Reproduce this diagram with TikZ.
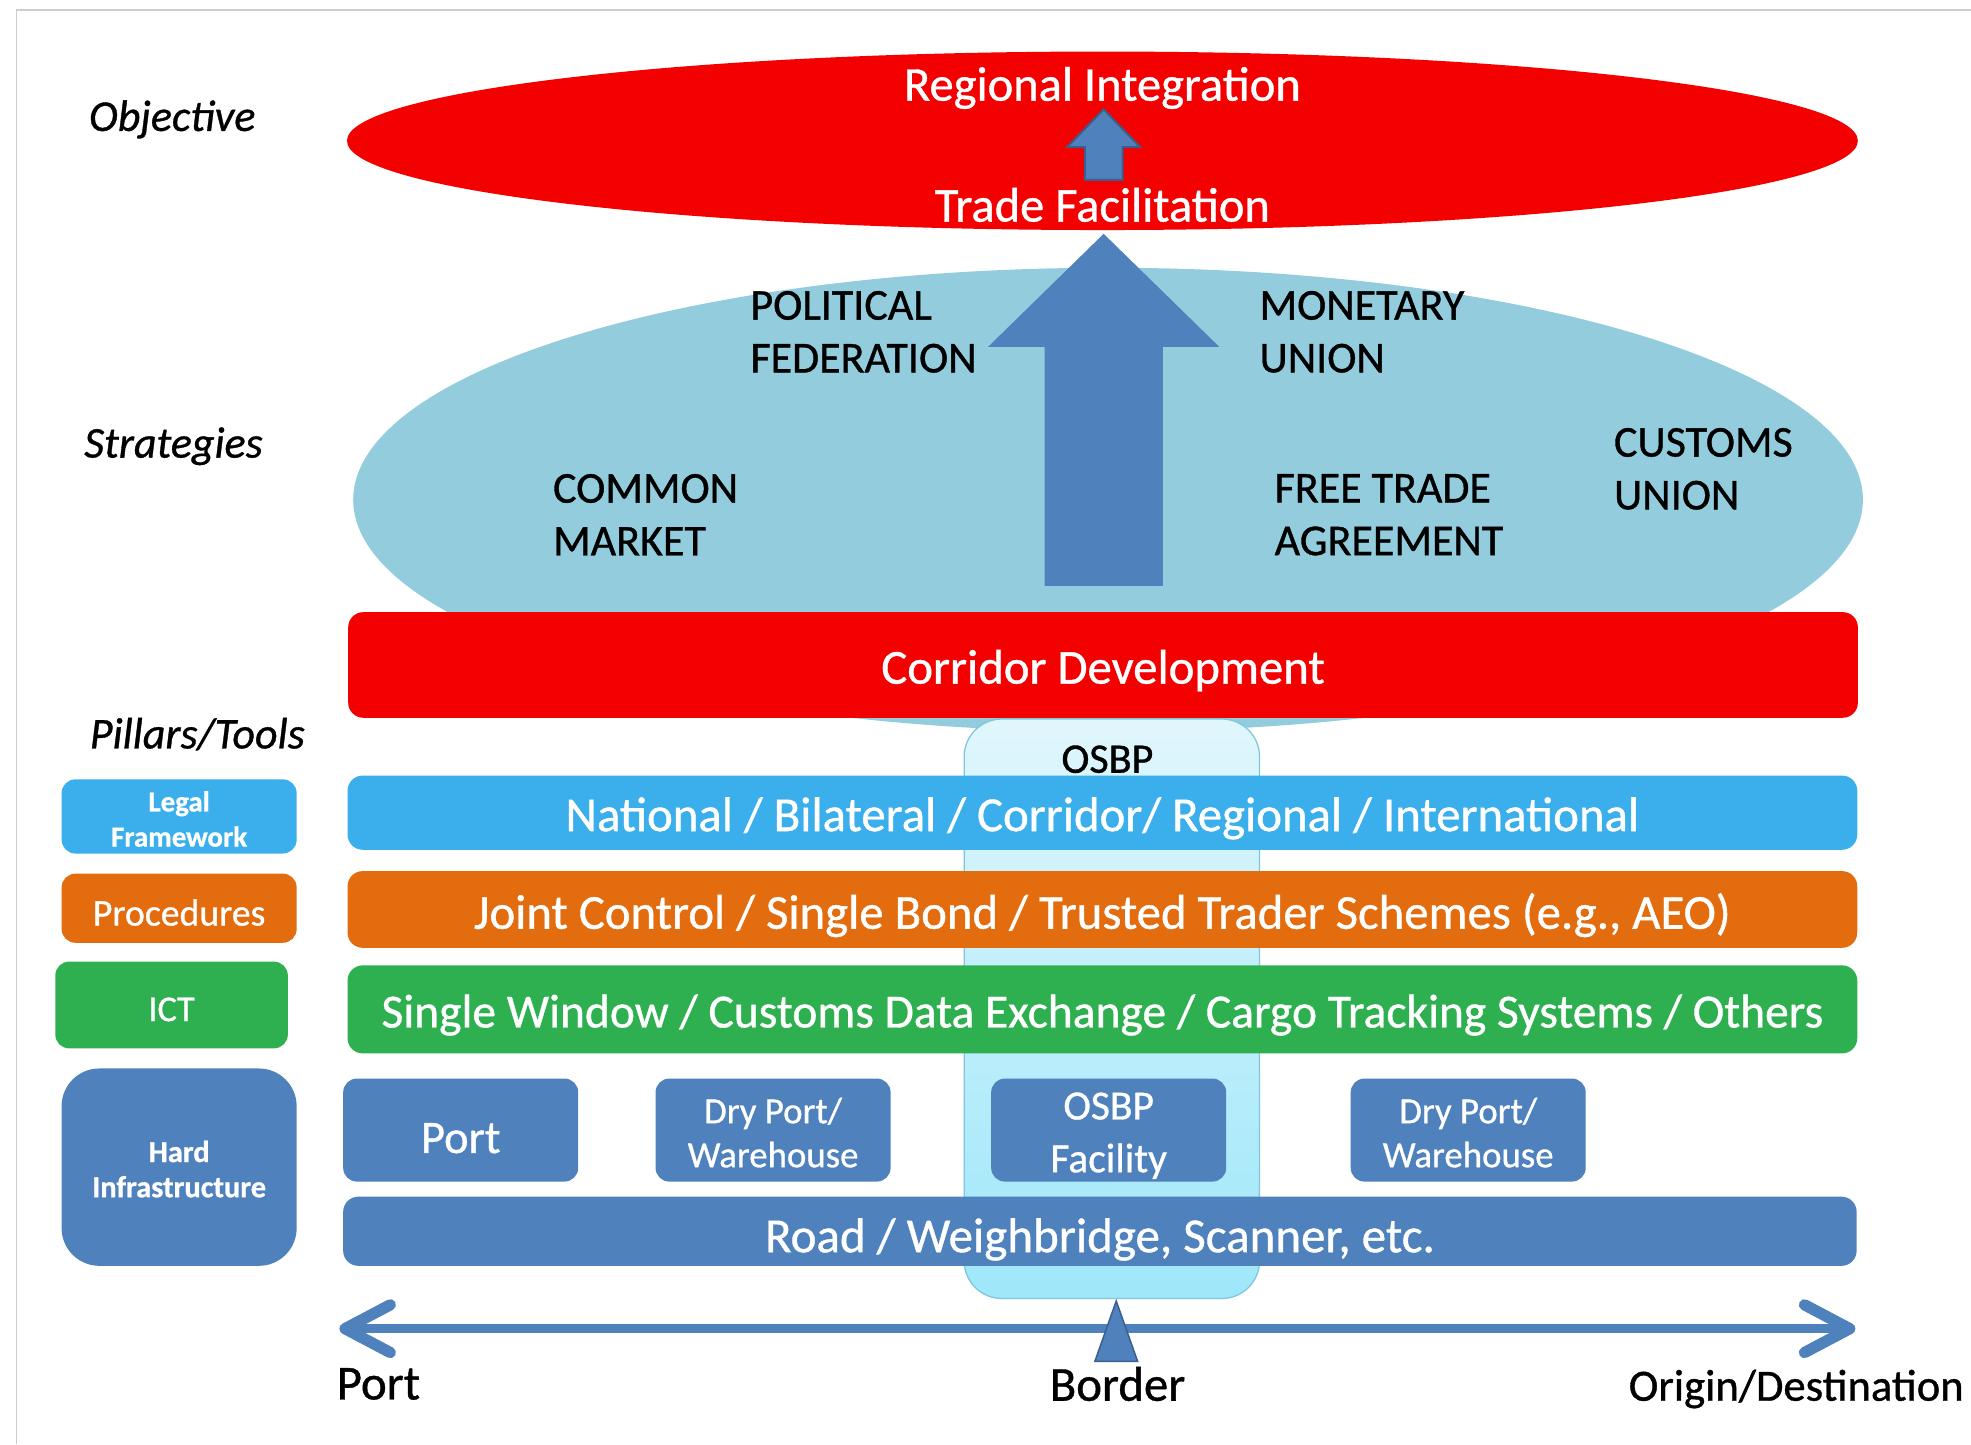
\documentclass[tikz,border=0pt]{standalone}
\usepackage{fontspec}
\setmainfont{Carlito}[FakeBold=0.8]
\usetikzlibrary{shapes.geometric,arrows.meta}

\definecolor{objred}{RGB}{243,0,0}
\definecolor{stratblue}{RGB}{147,205,221}
\definecolor{legalblue}{RGB}{59,175,235}
\definecolor{procorange}{RGB}{226,108,14}
\definecolor{ictgreen}{RGB}{46,176,80}
\definecolor{infrablue}{RGB}{79,129,189}
\definecolor{infraedge}{RGB}{58,95,142}
\definecolor{osbptop}{RGB}{224,246,252}
\definecolor{osbpbottom}{RGB}{158,231,250}
\definecolor{osbpedge}{RGB}{128,198,218}
\definecolor{framegray}{RGB}{205,205,205}

\newcommand{\fsz}[2]{\fontsize{#1}{#2}\selectfont}

\begin{document}
\begin{tikzpicture}[x=1pt,y=-1pt,
  every node/.style={inner sep=0pt,outer sep=0pt},
  oval/.style={ellipse,inner sep=0pt},
  bigbar/.style={rounded corners=12pt,minimum width=1201pt},
  sidebox/.style={rounded corners=11pt,minimum width=187pt},
  facility/.style={fill=infrablue,rounded corners=11pt,minimum width=187pt,minimum height=82pt},
  whitetext/.style={text=white,align=center},
  bartext/.style={text=white,font=\fsz{38.8}{46},yshift=-4.5pt},
  rowlabel/.style={font=\itshape\fsz{35}{40}},
  strat/.style={anchor=west,align=left,font=\fsz{35}{42}},
  axislabel/.style={font=\fsz{38.8}{44}},
  blockarrow/.style={fill=infrablue},
  smallarrow/.style={fill=infrablue,draw=infraedge,line width=1.6pt,line join=miter}
]
\useasboundingbox (0,0) rectangle (1568,1148.8);

% frame edges
\draw[framegray,line width=1pt] (13,1148.8) -- (13,8) -- (1568,8);

% row labels
\node[rowlabel] (lobj) at (137,95) {Objective};
\node[rowlabel] (lstrat) at (138,355) {Strategies};
\node[rowlabel] (lpill) at (157,584) {Pillars/Tools};

% strategies oval
\node[oval,fill=stratblue,minimum width=1201pt,minimum height=369pt] (strategies) at (881.5,397.5) {};

% OSBP column behind the pillars
\node[draw=osbpedge,line width=1pt,top color=osbptop,bottom color=osbpbottom,
      rounded corners=30pt,minimum width=235pt,minimum height=461pt] (osbpcol) at (884.5,802.5) {};
\node[font=\fsz{33.5}{40}] (osbplabel) at (881,604) {OSBP};

% objective oval
\node[oval,fill=objred,minimum width=1202pt,minimum height=142pt] (objective) at (877,112) {};
\node[text=white,font=\fsz{38.6}{46}] (regint) at (877,70) {Regional Integration};
\node[text=white,font=\fsz{38.6}{46}] (tradefac) at (877,163) {Trade Facilitation};

% small arrow: trade facilitation to regional integration
\filldraw[smallarrow] (878,87) -- (907,117) -- (893,117) -- (893,143) -- (863,143) -- (863,117) -- (849,117) -- cycle;

% big arrow rising from the strategies
\fill[blockarrow] (878,186) -- (970,276) -- (925,276) -- (925,466) -- (831,466) -- (831,276) -- (786,276) -- cycle;

% strategy names
\node[strat] (polfed) at (597,264) {POLITICAL\\FEDERATION};
\node[strat] (monun) at (1002,264) {MONETARY\\UNION};
\node[strat] (common) at (440,409.5) {COMMON\\MARKET};
\node[strat] (fta) at (1014,409.5) {FREE TRADE\\AGREEMENT};
\node[strat] (cusun) at (1284,373) {CUSTOMS\\UNION};

% corridor development
\node[bigbar,fill=objred,minimum height=84pt] (corridor) at (877.5,529) {};
\node[bartext] (corridortxt) at (corridor.center) {Corridor Development};

% pillars
\node[bigbar,fill=legalblue,minimum height=59pt] (legalbar) at (877,646.5) {};
\node[bartext] (legaltxt) at (legalbar.center) {National / Bilateral / Corridor/ Regional / International};
\node[bigbar,fill=procorange,minimum height=61pt] (procbar) at (877,723.5) {};
\node[bartext] (proctxt) at (procbar.center) {Joint Control / Single Bond / Trusted Trader Schemes (e.g., AEO)};
\node[bigbar,fill=ictgreen,minimum height=70pt] (ictbar) at (877,803) {};
\node[bartext,font=\fsz{37.8}{46}] (icttxt) at (ictbar.center) {Single Window / Customs Data Exchange / Cargo Tracking Systems / Others};

% hard infrastructure
\node[facility] (port) at (366.5,899) {};
\node[bartext,font=\fsz{37}{44},yshift=-2pt] (porttxt) at (port.center) {Port};
\node[facility] (dry1) at (615,899) {};
\node[whitetext,font=\fsz{29.3}{35},yshift=-2pt] (dry1txt) at (dry1.center) {Dry Port/\\Warehouse};
\node[facility] (osbpfac) at (882,899) {};
\node[whitetext,font=\fsz{33}{42},yshift=-4.5pt] (osbpfactxt) at (osbpfac.center) {OSBP\\Facility};
\node[facility] (dry2) at (1168,899) {};
\node[whitetext,font=\fsz{29.3}{35},yshift=-2pt] (dry2txt) at (dry2.center) {Dry Port/\\Warehouse};
\node[bigbar,fill=infrablue,minimum width=1204pt,minimum height=55pt] (road) at (875,979.5) {};
\node[bartext,font=\fsz{39}{46},yshift=-2pt] (roadtxt) at (road.center) {Road / Weighbridge, Scanner, etc.};

% pillar names
\node[sidebox,fill=legalblue,minimum height=59pt] (legal) at (142.5,649.5) {};
\node[whitetext,font=\bfseries\fsz{23}{28},yshift=-2pt] (legaltitle) at (legal.center) {Legal\\Framework};
\node[sidebox,fill=procorange,minimum height=55pt] (proc) at (142.5,722.5) {};
\node[whitetext,font=\fsz{30}{35},yshift=-3.5pt] (proctitle) at (proc.center) {Procedures};
\node[sidebox,fill=ictgreen,minimum width=185pt,minimum height=69pt] (ict) at (136.5,799.5) {};
\node[whitetext,font=\fsz{29}{35},yshift=-3.5pt] (icttitle) at (ict.center) {ICT};
\node[sidebox,fill=infrablue,rounded corners=30pt,minimum height=157pt] (hard) at (142.5,928.5) {};
\node[whitetext,font=\bfseries\fsz{24.2}{28},yshift=-1.5pt] (hardtitle) at (hard.center) {Hard\\Infrastructure};

% corridor axis
\coordinate (axw) at (270,1057);
\coordinate (axe) at (1476,1057);
\draw[infrablue,line width=7pt,
      {Straight Barb[round,length=36pt 0 0,width=38pt 0 0,line width=9pt]}-{Straight Barb[round,length=36pt 0 0,width=38pt 0 0,line width=9pt]}] (axw) -- (axe);
\filldraw[smallarrow,line width=1.2pt] (888,1035) -- (905,1083) -- (871,1083) -- cycle;

\node[axislabel] (lport) at (301,1101) {Port};
\node[axislabel] (lborder) at (889,1101) {Border};
\node[axislabel,font=\fsz{35.5}{44}] (lorigin) at (1429,1105) {Origin/Destination};
\end{tikzpicture}
\end{document}
